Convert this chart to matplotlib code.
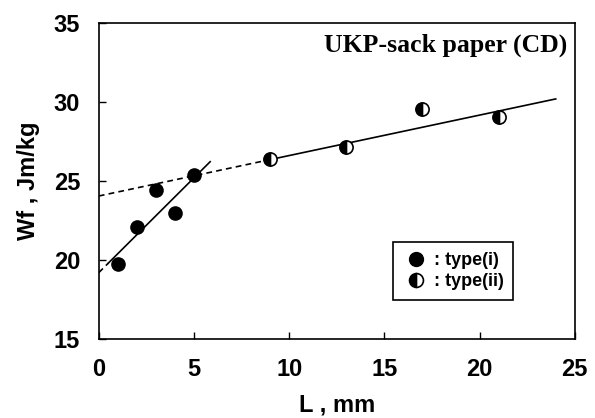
import matplotlib.pyplot as plt
from matplotlib.lines import Line2D
import numpy as np

# type(i): short specimens, type(ii): long specimens
L_type1 = [1, 2, 3, 4, 5]
Wf_type1 = [19.75, 22.1, 24.4, 23.0, 25.35]
L_type2 = [9, 13, 17, 21]
Wf_type2 = [26.4, 27.15, 29.55, 29.05]

# fitted lines (slope, intercept) and drawn ranges
fit1 = (1.20, 19.2)
fit1_dash = [0, 0.5]
fit1_solid = [0.5, 5.85]
fit2 = (0.256, 24.05)
fit2_dash = [0, 9]
fit2_solid = [9, 24]

xticks = [0, 5, 10, 15, 20, 25]
yticks = [15, 20, 25, 30, 35]

plt.rcParams['font.family'] = ['Liberation Sans', 'DejaVu Sans']

fig = plt.figure(figsize=(5.95, 4.18), dpi=100)
ax = fig.add_axes([0.166, 0.189, 0.800, 0.756])

def line(rng, fit, ls):
    xs = np.array(rng)
    ax.plot(xs, fit[0] * xs + fit[1], color='black', lw=1.2, linestyle=ls)

dash = (0, (3.5, 2.5))
line(fit1_dash, fit1, dash)
line(fit1_solid, fit1, '-')
line(fit2_dash, fit2, dash)
line(fit2_solid, fit2, '-')

ax.plot(L_type1, Wf_type1, 'o', color='black', ms=9.5, zorder=3)
ax.plot(L_type2, Wf_type2, 'o', ms=9.5, fillstyle='left',
        markerfacecolor='black', markerfacecoloralt='white',
        markeredgecolor='black', markeredgewidth=1.2, zorder=3)

ax.set_xlim(0, 25)
ax.set_ylim(15, 35)
ax.set_xticks(xticks)
ax.set_yticks(yticks)
ax.tick_params(direction='in', length=5, width=1, labelsize=17, pad=13.5)
for lab in ax.get_xticklabels() + ax.get_yticklabels():
    lab.set_fontweight('bold')
for sp in ax.spines.values():
    sp.set_linewidth(1.2)

ax.set_xlabel('L , mm', fontsize=17, fontweight='bold', labelpad=9)
ax.set_ylabel('Wf , Jm/kg', fontsize=17, fontweight='bold', labelpad=10)

ax.text(0.985, 0.965, 'UKP-sack paper (CD)', transform=ax.transAxes,
        ha='right', va='top', fontsize=18.5, fontweight='bold',
        family='Liberation Serif')

handles = [
    Line2D([], [], marker='o', ls='', color='black', ms=10),
    Line2D([], [], marker='o', ls='', ms=10, fillstyle='left',
           markerfacecolor='black', markerfacecoloralt='white',
           markeredgecolor='black', markeredgewidth=1.2),
]
leg = ax.legend(handles, [': type(i)', ': type(ii)'], loc='upper left',
                bbox_to_anchor=(0.618, 0.307), borderaxespad=0,
                prop={'weight': 'bold', 'size': 13}, fancybox=False,
                edgecolor='black', framealpha=1, handletextpad=0.3,
                handlelength=1.4, labelspacing=0.25, borderpad=0.55)
leg.get_frame().set_linewidth(1.2)

fig.savefig('out.png', dpi=100)
